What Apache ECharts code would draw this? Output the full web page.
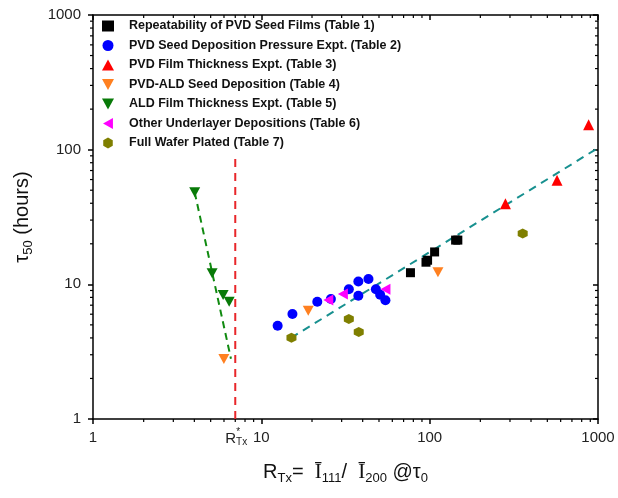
<!DOCTYPE html>
<html>
<head>
<meta charset="utf-8">
<script src="https://cdn.jsdelivr.net/npm/echarts@6/dist/echarts.min.js"></script>
<style>
html, body { margin: 0; padding: 0; background: #fff; }
#tauChart { width: 618px; height: 498px; }
</style>
</head>
<body>
<div id="tauChart"></div>
<script>
// values, [R_Tx, tau50]
const seedFilms = [[76.9, 12.2], [95.1, 14.6], [97.2, 15.1], [107, 17.4], [142.6, 21.3], [147, 21.3]]
const depPressure = [[12.5, 4.93], [15.3, 6.02], [21.5, 7.43], [25.9, 7.78], [33.1, 9.18], [37.7, 10.5],
    [43.3, 10.95], [37.7, 8.23], [47.9, 9.18], [50.8, 8.37], [54.6, 7.61]]
const filmThickness = [[282, 39.6], [571, 59.4], [880, 153]]
const pvdAld = [[5.99, 2.79], [19.0, 6.37], [112, 12.3]]
const aldThickness = [[4.02, 48.2], [5.1, 12.1], [5.93, 8.33], [6.44, 7.43]]
const underlayer = [[25.0, 7.65], [30.5, 8.47], [54.6, 9.18]]
const fullWafer = [[15.1, 4.01], [33.1, 5.53], [37.9, 4.42], [357, 23.8]]
const mainFit = [[15, 4.0], [1000, 103]]
const aldFit = [[4.02, 48.2], [6.6, 2.8]]
const criticalRtx = [[7.0, 1], [7.0, 87]]
const minorTicks = [2, 3, 4, 5, 6, 7, 8, 9, 20, 30, 40, 50, 60, 70, 80, 90, 200, 300, 400, 500, 600, 700, 800, 900]
const legendNames = ['Repeatability of PVD Seed Films (Table 1)', 'PVD Seed Deposition Pressure Expt. (Table 2)',
    'PVD Film Thickness Expt. (Table 3)', 'PVD-ALD Seed Deposition (Table 4)', 'ALD Film Thickness Expt. (Table 5)',
    'Other Underlayer Depositions (Table 6)', 'Full Wafer Plated (Table 7)']

const downTri = 'path://M0,0 L10,0 L5,9 Z'
const leftTri = 'path://M9,0 L9,10 L0,5 Z'
const hexagon = 'path://M5,0 L9.33,2.5 L9.33,7.5 L5,10 L0.67,7.5 L0.67,2.5 Z'

let tauChart = echarts.init(document.getElementById('tauChart'))

function scatter(name, data, symbol, size, color) {
    return {
        name: name,
        type: 'scatter',
        data: data,
        symbol: symbol,
        symbolSize: size,
        itemStyle: { color: color, opacity: 1 },
        z: 5
    }
}

function dashed(data, color, dash) {
    return {
        type: 'line',
        data: data,
        symbol: 'none',
        silent: true,
        lineStyle: { color: color, width: 2, type: dash },
        z: 3
    }
}

const logAxis = {
    type: 'log',
    logBase: 10,
    min: 1,
    max: 1000,
    splitLine: { show: false },
    axisLine: { lineStyle: { color: '#000', width: 1.5 } },
    axisTick: { length: 5, lineStyle: { color: '#000', width: 1.5 } }
}

const tickLabel = {
    fontFamily: 'Liberation Sans',
    fontSize: 15,
    color: '#222',
    formatter: function(v) {
        return String(Math.round(v))
    }
}

let option = {
    animation: false,
    grid: { left: 93, right: 20, top: 15, bottom: 79 },
    legend: {
        data: legendNames,
        orient: 'vertical',
        left: 97,
        top: 14,
        itemWidth: 12,
        itemHeight: 11,
        itemGap: 5.5,
        textStyle: {
            fontFamily: 'Liberation Sans',
            fontWeight: 'bold',
            fontSize: 12.5,
            color: '#111',
            lineHeight: 14,
            padding: [0, 0, 0, 10]
        }
    },
    xAxis: [
        Object.assign({}, logAxis, {
            position: 'bottom',
            axisLabel: Object.assign({ margin: 11 }, tickLabel),
            name: '{r|R}{s|Tx}{r|=  }{i|Ī}{s|111}{r|/  }{i|Ī}{s|200}{r| @τ}{s|0}',
            nameLocation: 'middle',
            nameGap: 40,
            nameTextStyle: {
                rich: {
                    r: { fontFamily: 'Liberation Sans', fontSize: 20, color: '#111', lineHeight: 26, verticalAlign: 'middle' },
                    i: { fontFamily: 'Liberation Serif', fontSize: 21, color: '#111', lineHeight: 26, verticalAlign: 'middle' },
                    s: { fontFamily: 'Liberation Sans', fontSize: 13, color: '#111', lineHeight: 8, verticalAlign: 'bottom' }
                }
            }
        }),
        Object.assign({}, logAxis, {
            position: 'top',
            axisLabel: { show: false },
            axisTick: { inside: true, length: 5, lineStyle: { color: '#000', width: 1.5 } }
        })
    ],
    yAxis: [
        Object.assign({}, logAxis, {
            position: 'left',
            axisLabel: Object.assign({ margin: 12 }, tickLabel),
            name: '{r|τ}{s|50}{r| (hours)}',
            nameLocation: 'middle',
            nameRotate: 90,
            nameGap: 58,
            nameTextStyle: {
                rich: {
                    r: { fontFamily: 'Liberation Sans', fontSize: 20, color: '#111', lineHeight: 26, verticalAlign: 'middle' },
                    s: { fontFamily: 'Liberation Sans', fontSize: 13, color: '#111', lineHeight: 8, verticalAlign: 'bottom' }
                }
            }
        }),
        Object.assign({}, logAxis, {
            position: 'right',
            axisLabel: { show: false },
            axisTick: { inside: true, length: 5, lineStyle: { color: '#000', width: 1.5 } }
        })
    ],
    series: [
        dashed(mainFit, '#17908f', [8, 6]),
        dashed(aldFit, '#108a10', [7, 5]),
        dashed(criticalRtx, '#e8262a', [8, 6]),
        scatter(legendNames[0], seedFilms, 'rect', 9, '#000000'),
        scatter(legendNames[1], depPressure, 'circle', 10, '#0000ff'),
        scatter(legendNames[2], filmThickness, 'triangle', 11, '#ff0000'),
        scatter(legendNames[3], pvdAld, downTri, [11, 10], '#ff8020'),
        scatter(legendNames[4], aldThickness, downTri, [11, 10], '#087a08'),
        scatter(legendNames[5], underlayer, leftTri, [10, 11], '#ff00ff'),
        scatter(legendNames[6], fullWafer, hexagon, 10, '#7f7f00'),
        {
            // minor ticks on all four sides
            type: 'custom',
            data: minorTicks.map(v => [v, v]),
            silent: true,
            clip: false,
            renderItem: function(params, api) {
                const v = api.value(0)
                const b = api.coord([v, 1])
                const t = api.coord([v, 1000])
                const l = api.coord([1, v])
                const r = api.coord([1000, v])
                const st = { stroke: '#000', lineWidth: 1.2 }
                return {
                    type: 'group',
                    children: [
                        { type: 'line', shape: { x1: b[0], y1: b[1], x2: b[0], y2: b[1] + 3 }, style: st },
                        { type: 'line', shape: { x1: t[0], y1: t[1], x2: t[0], y2: t[1] + 3 }, style: st },
                        { type: 'line', shape: { x1: l[0], y1: l[1], x2: l[0] - 3, y2: l[1] }, style: st },
                        { type: 'line', shape: { x1: r[0], y1: r[1], x2: r[0] - 3, y2: r[1] }, style: st }
                    ]
                }
            }
        }
    ]
}

tauChart.setOption(option)

// R*_Tx label under the critical line
const p = tauChart.convertToPixel({ xAxisIndex: 0, yAxisIndex: 0 }, criticalRtx[0])
tauChart.setOption({
    graphic: [
        {
            type: 'text',
            left: p[0] - 10,
            top: p[1] + 12,
            style: {
                text: '{r|R}{s|Tx}',
                rich: {
                    r: { fontFamily: 'Liberation Sans', fontSize: 15, fill: '#222', lineHeight: 18, verticalAlign: 'middle' },
                    s: { fontFamily: 'Liberation Sans', fontSize: 10, fill: '#222', lineHeight: 6, verticalAlign: 'bottom' }
                }
            }
        },
        {
            type: 'text',
            left: p[0] + 1,
            top: p[1] + 8,
            style: { text: '*', fontFamily: 'Liberation Sans', fontSize: 10, fill: '#222' }
        }
    ]
})
</script>
</body>
</html>
